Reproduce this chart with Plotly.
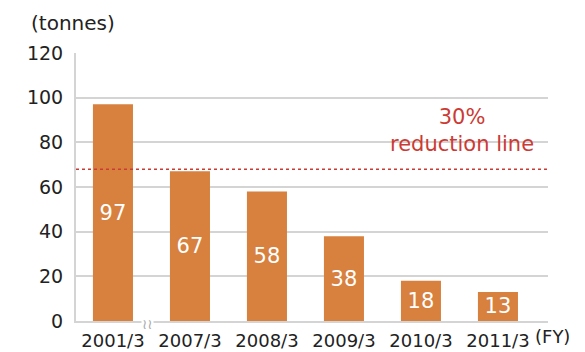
import plotly.graph_objects as go

# Fiscal years and emissions (tonnes)
years = ["2001/3", "2007/3", "2008/3", "2009/3", "2010/3", "2011/3"]
tonnes = [97, 67, 58, 38, 18, 13]
y_ticks = [0, 20, 40, 60, 80, 100, 120]
reduction_target = round(tonnes[0] * 0.7, 1)  # 30% reduction line from base year

BAR = "#D8803E"
GRID = "#D4D4D4"
TEXT = "#222222"
RED = "#CC3B33"
FONT = "DejaVu Sans, Verdana, sans-serif"

fig = go.Figure()
fig.add_trace(go.Bar(
    x=list(range(len(years))),
    y=tonnes,
    marker=dict(color=BAR, line=dict(width=0)),
    width=0.52,
    text=[str(v) for v in tonnes],
    textposition="inside",
    insidetextanchor="middle",
    textfont=dict(color="white", size=21, family=FONT),
    hoverinfo="skip",
))

# dashed target line
fig.add_shape(type="line", xref="paper", yref="y", x0=0, x1=1,
              y0=reduction_target, y1=reduction_target,
              line=dict(color=RED, width=1.5, dash="3px,3px"))

fig.add_annotation(x=0.818, xref="paper", xanchor="center",
                   y=reduction_target, yref="y", yanchor="bottom", yshift=11,
                   text="30%<br>reduction line", showarrow=False,
                   font=dict(color=RED, size=21, family=FONT), align="center")

# unit label
fig.add_annotation(x=-0.1, xref="paper", xanchor="left",
                   y=1.0, yref="paper", yanchor="bottom", yshift=16,
                   text="(tonnes)", showarrow=False,
                   font=dict(size=20, color=TEXT, family=FONT))

# (FY) suffix after last category
fig.add_annotation(x=len(years) - 1, xref="x", y=0, yref="y",
                   xanchor="left", xshift=35, yanchor="top", yshift=-3,
                   text="(FY)", showarrow=False,
                   font=dict(size=18, color=TEXT, family=FONT))

# axis break mark between first and second category
fig.add_annotation(x=0.45, xref="x", y=0, yref="y", text="≀≀", showarrow=False,
                   bgcolor="white", font=dict(size=14, color="#AAAAAA", family=FONT),
                   yshift=-3, borderpad=0)

fig.update_xaxes(
    range=[-0.48, 5.65], automargin=False,
    tickmode="array", tickvals=list(range(len(years))), ticktext=years,
    showgrid=False, zeroline=False,
    showline=True, linecolor=GRID, linewidth=2,
    ticks="", ticklabelstandoff=2,
    tickfont=dict(size=18, color=TEXT, family=FONT),
)
fig.update_yaxes(
    range=[0, 120], tickvals=y_ticks, automargin=False,
    showgrid=True, gridcolor=GRID, gridwidth=2,
    zeroline=False, showline=True, linecolor=GRID, linewidth=2,
    ticks="", ticklabelstandoff=7,
    tickfont=dict(size=19, color=TEXT, family=FONT),
)

fig.update_layout(
    width=585, height=352,
    margin=dict(l=76, r=37, t=53, b=31),
    paper_bgcolor="white", plot_bgcolor="white",
    showlegend=False, bargap=0.48,
    uniformtext=dict(minsize=21, mode="show"),
)

fig.write_html("out.html")
